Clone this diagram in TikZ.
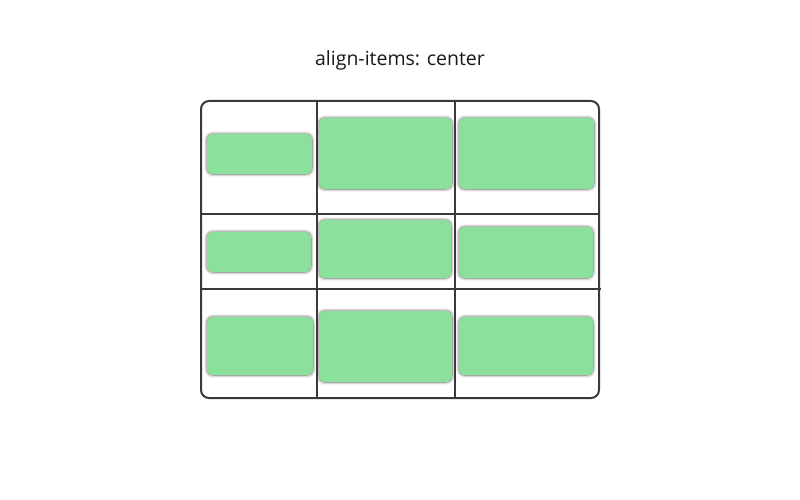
\documentclass[tikz,border=0pt]{standalone}
\usepackage{fontspec}
\setmainfont{Open Sans}
\usetikzlibrary{calc,positioning,shadows.blur}
\definecolor{grid_gray}{RGB}{58, 58, 58}
\definecolor{item_green}{RGB}{139, 224, 156}
\tikzset{
	itembox/.style={draw=none,fill=item_green,rounded corners=6pt,inner sep=0pt,
		blur shadow={shadow xshift=0pt,shadow yshift=0pt,shadow blur radius=3pt,shadow opacity=65,shadow blur steps=6}},
	gridline/.style={draw=grid_gray,line width=2pt},
}
\begin{document}
\begin{tikzpicture}[
		x=1pt,y=-1pt,
		every node/.style={font=\fontsize{19.5}{23}\selectfont},
	]
	\useasboundingbox (0,0) rectangle (800,500);

	% title
	\node[name=title,text=black!90] at (400,60) {align-items: center};

	% items: name / left / top / right / bottom
	\foreach \n/\xa/\ya/\xb/\yb in {
			a1/207/134/312/174, a2/319/118/452/189, a3/459/118/594/189,
			b1/207/232/311/272, b2/319/220/451/278, b3/459/227/593/278,
			c1/207/317/313/375, c2/319/311/452/382, c3/459/317/593/375}{
			\node[itembox,minimum width={\xb-\xa},minimum height={\yb-\ya},name=item-\n]
				at ({(\xa+\xb)/2},{(\ya+\yb)/2}) {};
		}

	% grid container
	\draw[gridline,rounded corners=8pt] (201,101) rectangle (599,398);
	\foreach \x in {317,455}{
			\draw[gridline] (\x,101) -- (\x,398);
		}
	\draw[gridline] (201,214) -- (599,214);
	\draw[gridline] (201,289) -- (601,289);

\end{tikzpicture}
\end{document}
